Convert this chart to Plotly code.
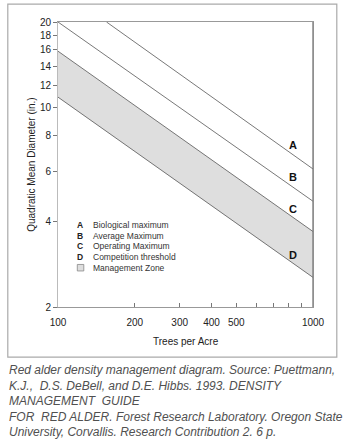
import numpy as np
import plotly.graph_objects as go

# ---- data ----
line_names = ["A", "B", "C", "D"]
line_desc = ["Biological maximum", "Average Maximum", "Operating Maximum", "Competition threshold"]
a_tpa = [155, 1000]
a_qmd = [20.0, 6.1]
b_tpa = [100, 1000]
b_qmd = [20.0, 4.7]
c_tpa = [100, 1000]
c_qmd = [15.8, 3.68]
d_tpa = [100, 1000]
d_qmd = [10.9, 2.54]
label_tpa = 836
label_qmd = [7.43, 5.74, 4.43, 3.05]
x_tickvals = [100, 200, 300, 400, 500, 600, 700, 800, 900, 1000]
x_ticktext = ["100", "200", "300", "400", "500", "", "", "", "", "1000"]
y_tickvals = [2, 4, 6, 8, 10, 12, 14, 16, 18, 20]
caption_lines = [
    "Red alder density management diagram. Source: Puettmann,",
    "K.J.,  D.S. DeBell, and D.E. Hibbs. 1993. DENSITY",
    "MANAGEMENT  GUIDE",
    "FOR  RED ALDER. Forest Research Laboratory. Oregon State",
    "University, Corvallis. Research Contribution 2. 6 p.",
]

FONT = "Arial, Liberation Sans, Helvetica, sans-serif"
LINE = "#555555"

fig = go.Figure()
fig.add_trace(go.Scatter(x=d_tpa, y=d_qmd, mode="lines",
                         line=dict(color=LINE, width=0.8), hoverinfo="skip"))
fig.add_trace(go.Scatter(x=c_tpa, y=c_qmd, mode="lines", fill="tonexty",
                         fillcolor="#dedede",
                         line=dict(color=LINE, width=0.8), hoverinfo="skip"))
fig.add_trace(go.Scatter(x=b_tpa, y=b_qmd, mode="lines",
                         line=dict(color=LINE, width=0.8), hoverinfo="skip"))
fig.add_trace(go.Scatter(x=a_tpa, y=a_qmd, mode="lines",
                         line=dict(color=LINE, width=0.8), hoverinfo="skip"))

annotations = []
for name, yv in zip(line_names, label_qmd):
    annotations.append(dict(x=np.log10(label_tpa), y=np.log10(yv), xref="x", yref="y",
                            text=f"<b>{name}</b>", showarrow=False,
                            font=dict(family=FONT, size=11, color="#111111")))

# legend block (paper coords)
def px_to_paper_x(px):
    return (px - 57.7) / 255.0

def py_to_paper_y(py):
    return (307.0 - py) / 284.7

leg_rows = [225, 235.6, 246.2, 256.8, 267.6]
for i, (name, desc) in enumerate(zip(line_names, line_desc)):
    annotations.append(dict(x=px_to_paper_x(80), y=py_to_paper_y(leg_rows[i]), xref="paper", yref="paper",
                            text=f"<b>{name}</b>", showarrow=False, xanchor="center", yanchor="middle",
                            font=dict(family=FONT, size=8.5, color="#222222")))
    annotations.append(dict(x=px_to_paper_x(90.5), y=py_to_paper_y(leg_rows[i]), xref="paper", yref="paper",
                            text=desc, showarrow=False, xanchor="left", yanchor="middle",
                            font=dict(family=FONT, size=8.5, color="#333333")))
annotations.append(dict(x=px_to_paper_x(90.5), y=py_to_paper_y(leg_rows[4]), xref="paper", yref="paper",
                        text="Management Zone", showarrow=False, xanchor="left", yanchor="middle",
                        font=dict(family=FONT, size=8.5, color="#333333")))

# caption
cap_rows = [370, 385.5, 400.7, 417, 431.7]
for txt, py in zip(caption_lines, cap_rows):
    annotations.append(dict(x=px_to_paper_x(7), y=py_to_paper_y(py), xref="paper", yref="paper",
                            text=f"<i>{txt}</i>", showarrow=False, xanchor="left", yanchor="middle",
                            font=dict(family=FONT, size=12, color="#505050")))

# x title
annotations.append(dict(x=0.5, y=py_to_paper_y(341.7), xref="paper", yref="paper",
                        text="Trees per Acre", showarrow=False, xanchor="center", yanchor="middle",
                        font=dict(family=FONT, size=10, color="#222222")))
# y title
annotations.append(dict(x=px_to_paper_x(31), y=0.5, xref="paper", yref="paper",
                        text="Quadratic Mean Diameter (in.)", textangle=-90, showarrow=False,
                        xanchor="center", yanchor="middle",
                        font=dict(family=FONT, size=10, color="#222222")))

shapes = [
    # outer frame
    dict(type="rect", xref="paper", yref="paper",
         x0=px_to_paper_x(7.5), x1=px_to_paper_x(336.5),
         y0=py_to_paper_y(357), y1=py_to_paper_y(4.5),
         line=dict(color="#aaaaaa", width=1.2), fillcolor="rgba(0,0,0,0)", layer="below"),
    # legend swatch
    dict(type="rect", xref="paper", yref="paper",
         x0=px_to_paper_x(77), x1=px_to_paper_x(83.5),
         y0=py_to_paper_y(271), y1=py_to_paper_y(264.5),
         line=dict(color="#888888", width=0.8), fillcolor="#dedede"),
    # right axis line (darker)
    dict(type="line", xref="paper", yref="paper", x0=1, x1=1, y0=0, y1=1,
         line=dict(color="#777777", width=1.3)),
]

fig.update_layout(
    width=343, height=447,
    margin=dict(l=58, r=30, t=22, b=140),
    paper_bgcolor="white", plot_bgcolor="white",
    showlegend=False,
    font=dict(family=FONT, size=10, color="#222222"),
    annotations=annotations,
    shapes=shapes,
    xaxis=dict(type="log", range=[2, 3], tickmode="array", tickvals=x_tickvals, ticktext=x_ticktext,
               ticks="inside", ticklen=4, tickcolor="#777777", tickwidth=1, ticklabelstandoff=6,
               showline=True, linecolor="#999999", linewidth=1, mirror=True,
               showgrid=False, zeroline=False, tickfont=dict(size=10, color="#222222")),
    yaxis=dict(type="log", range=[np.log10(2), np.log10(20)], tickmode="array", tickvals=y_tickvals,
               ticktext=[str(v) for v in y_tickvals],
               ticks="outside", ticklen=4, tickcolor="#777777", tickwidth=1,
               showline=True, linecolor="#bbbbbb", linewidth=1, mirror=True,
               showgrid=False, zeroline=False, tickfont=dict(size=10, color="#222222")),
)

fig.write_html("out.html")
